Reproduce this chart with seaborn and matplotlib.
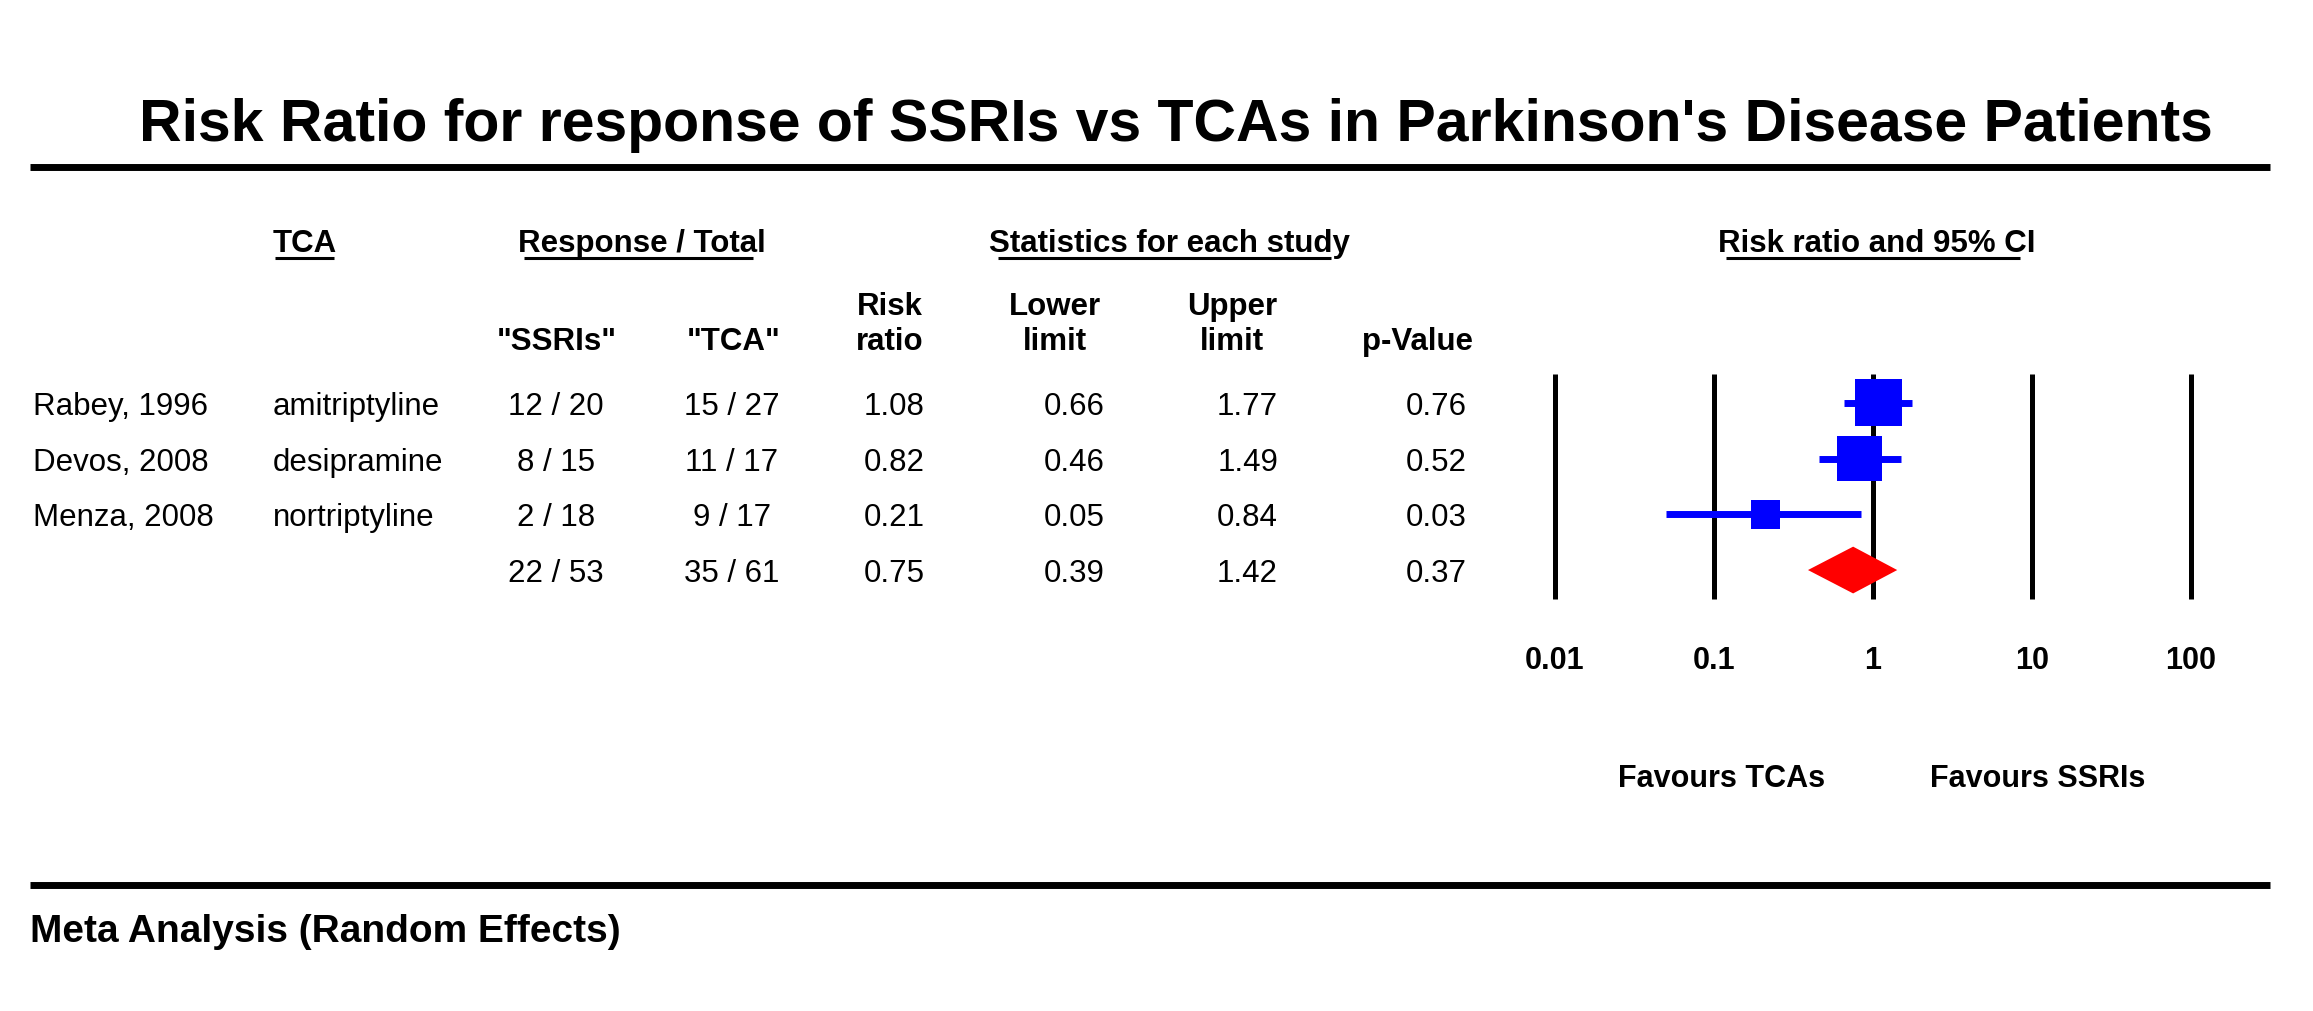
import matplotlib
matplotlib.use('Agg')
import matplotlib.pyplot as plt
import matplotlib.transforms as mtransforms
from matplotlib.ticker import NullLocator
import seaborn as sns
import pandas as pd

# study level data
studies = ['Rabey, 1996', 'Devos, 2008', 'Menza, 2008']
tca_drugs = ['amitriptyline', 'desipramine', 'nortriptyline']
ssri_resp = [12, 8, 2]
ssri_total = [20, 15, 18]
tca_resp = [15, 11, 9]
tca_total = [27, 17, 17]
risk_ratio = [1.08, 0.82, 0.21]
lower = [0.66, 0.46, 0.05]
upper = [1.77, 1.49, 0.84]
p_value = [0.76, 0.52, 0.03]
weight = [43.5, 39.9, 16.6]  # relative weight in %, drives square size

# pooled (random effects)
summary_rr = 0.75
summary_lower = 0.39
summary_upper = 1.42
summary_p = 0.37

ticks = [0.01, 0.1, 1, 10, 100]
tick_labels = ['0.01', '0.1', '1', '10', '100']

df = pd.DataFrame({'row': range(len(studies)), 'rr': risk_ratio,
                   'lower': lower, 'upper': upper, 'weight': weight})
n_rows = len(studies) + 1

sns.set_style('white')
plt.rcParams['font.family'] = ['Liberation Sans', 'DejaVu Sans']
plt.rcParams['text.color'] = 'black'
plt.rcParams['xtick.color'] = 'black'
plt.rcParams['xtick.labelcolor'] = 'black'

FS = 22.5  # body text size

W, H = 2313, 1012
fig = plt.figure(figsize=(W / 100, H / 100), dpi=100)

# overlay in pixel units for the table part
ov = fig.add_axes([0, 0, 1, 1])
ov.set_xlim(0, W)
ov.set_ylim(H, 0)
ov.axis('off')

# forest plot axes
ax = fig.add_axes([1555 / W, 1 - 600 / H, 636 / W, 225 / H])
ax.patch.set_visible(False)
ax.set_xscale('log')
ax.set_xlim(ticks[0], ticks[-1])
ax.set_ylim(n_rows - 0.48, -0.52)

for t in ticks:
    ax.axvline(t, color='black', lw=3.6, zorder=1, solid_capstyle='butt', clip_on=False)

ax.hlines(df['row'], df['lower'], df['upper'], color='#0000FF', lw=5,
          capstyle='butt', zorder=3)
sns.scatterplot(data=df, x='rr', y='row', size='weight', sizes=(0, 2631),
                size_norm=(0, 100), marker='s', color='#0000FF', linewidth=0,
                legend=False, ax=ax, zorder=4, clip_on=False)

srow = len(studies)
ax.fill([summary_lower, summary_rr, summary_upper, summary_rr],
        [srow, srow - 0.42, srow, srow + 0.42], color='#FF0000', lw=0, zorder=4)

ax.set_xticks(ticks)
ax.set_xticklabels(tick_labels)
ax.xaxis.set_minor_locator(NullLocator())
ax.tick_params(axis='x', length=0, pad=33, labelsize=22, labelcolor='black')
for lab in ax.get_xticklabels():
    lab.set_fontweight('bold')
ax.set_yticks([])
ax.set_xlabel('')
ax.set_ylabel('')
for sp in ax.spines.values():
    sp.set_visible(False)

# title and rules
ov.text(1176, 141, "Risk Ratio for response of SSRIs vs TCAs in Parkinson's Disease Patients",
        ha='center', va='baseline', fontsize=42.5, fontweight='bold')
ov.plot([30, 2270], [168, 168], color='black', lw=5, solid_capstyle='butt')
ov.plot([30, 2270], [886, 886], color='black', lw=5, solid_capstyle='butt')
ov.text(30, 942, 'Meta Analysis (Random Effects)', ha='left', va='baseline',
        fontsize=28, fontweight='bold')

# group headers (underlined)
hdr = []
for x, s, ha in [(273, 'TCA', 'left'), (642, 'Response / Total', 'center'),
                 (1169, 'Statistics for each study', 'center'),
                 (1877, 'Risk ratio and 95% CI', 'center')]:
    hdr.append(ov.text(x, 252, s, ha=ha, va='baseline', fontsize=FS, fontweight='bold'))

# column headers
sub = dict(ha='center', va='baseline', fontsize=FS, fontweight='bold')
ov.text(557, 350, '"SSRIs"', **sub)
ov.text(734, 350, '"TCA"', **sub)
for x, top, bottom in [(890, 'Risk', 'ratio'), (1055, 'Lower', 'limit'),
                       (1232, 'Upper', 'limit')]:
    ov.text(x, 315, top, **sub)
    ov.text(x, 350, bottom, **sub)
ov.text(1418, 350, 'p-Value', **sub)

# table rows, tied to the forest rows
trans = mtransforms.blended_transform_factory(ov.transData, ax.transData) + \
    mtransforms.ScaledTranslation(0, -11 / 100, fig.dpi_scale_trans)
body = dict(va='baseline', fontsize=FS, transform=trans)
for i in range(len(studies)):
    ov.text(33, i, studies[i], ha='left', **body)
    ov.text(273, i, tca_drugs[i], ha='left', **body)
    ov.text(556, i, f'{ssri_resp[i]} / {ssri_total[i]}', ha='center', **body)
    ov.text(732, i, f'{tca_resp[i]} / {tca_total[i]}', ha='center', **body)
    ov.text(925, i, f'{risk_ratio[i]:.2f}', ha='right', **body)
    ov.text(1105, i, f'{lower[i]:.2f}', ha='right', **body)
    ov.text(1278, i, f'{upper[i]:.2f}', ha='right', **body)
    ov.text(1467, i, f'{p_value[i]:.2f}', ha='right', **body)

ov.text(556, srow, f'{sum(ssri_resp)} / {sum(ssri_total)}', ha='center', **body)
ov.text(732, srow, f'{sum(tca_resp)} / {sum(tca_total)}', ha='center', **body)
ov.text(925, srow, f'{summary_rr:.2f}', ha='right', **body)
ov.text(1105, srow, f'{summary_lower:.2f}', ha='right', **body)
ov.text(1278, srow, f'{summary_upper:.2f}', ha='right', **body)
ov.text(1467, srow, f'{summary_p:.2f}', ha='right', **body)

# favours labels
ov.text(1722, 787, 'Favours TCAs', ha='center', va='baseline', fontsize=22, fontweight='bold')
ov.text(2038, 787, 'Favours SSRIs', ha='center', va='baseline', fontsize=22, fontweight='bold')

# underline the group headers (a bit shorter than the text)
fig.canvas.draw()
r = fig.canvas.get_renderer()
for t in hdr:
    bb = t.get_window_extent(r)
    w = bb.x1 - bb.x0
    ov.plot([bb.x0 + 0.025 * w, bb.x0 + 0.95 * w], [259, 259], color='black',
            lw=2.2, solid_capstyle='butt')

fig.savefig('out.png', dpi=100)
